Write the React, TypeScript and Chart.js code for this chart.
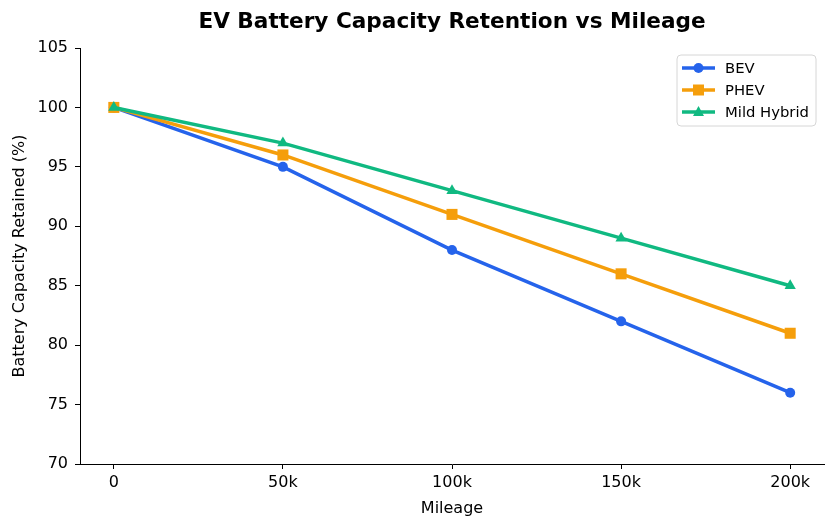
import React, { useEffect, useRef } from "react";
import { Chart, registerables } from "chart.js";

Chart.register(...registerables);

const mileage = [0, 50000, 100000, 150000, 200000];
const tickLabels = ["0", "50k", "100k", "150k", "200k"];
const bev = [100, 95, 88, 82, 76];
const phev = [100, 96, 91, 86, 81];
const mild = [100, 97, 93, 89, 85];
const yTicks = [70, 75, 80, 85, 90, 95, 100, 105];
const titleText = "EV Battery Capacity Retention vs Mileage";

const FONT = "DejaVu Sans";

const titlePlugin = {
  id: "mplTitle",
  afterDraw(chart: any) {
    const ctx = chart.ctx;
    const a = chart.chartArea;
    ctx.save();
    ctx.fillStyle = "#000";
    ctx.font = `bold 21.6px '${FONT}'`;
    ctx.textAlign = "center";
    ctx.textBaseline = "alphabetic";
    ctx.fillText(titleText, (a.left + a.right) / 2, 28);
    ctx.restore();
  },
};

const legendPlugin = {
  id: "mplLegend",
  afterDraw(chart: any) {
    const ctx = chart.ctx;
    const x0 = 677, y0 = 55, w = 139, h = 71, r = 4;
    ctx.save();
    ctx.beginPath();
    ctx.moveTo(x0 + r, y0);
    ctx.arcTo(x0 + w, y0, x0 + w, y0 + h, r);
    ctx.arcTo(x0 + w, y0 + h, x0, y0 + h, r);
    ctx.arcTo(x0, y0 + h, x0, y0, r);
    ctx.arcTo(x0, y0, x0 + w, y0, r);
    ctx.closePath();
    ctx.fillStyle = "rgba(255,255,255,0.8)";
    ctx.fill();
    ctx.strokeStyle = "#d6d6d6";
    ctx.lineWidth = 1;
    ctx.stroke();
    chart.data.datasets.forEach((ds: any, i: number) => {
      const y = 68 + i * 22;
      ctx.strokeStyle = ds.borderColor;
      ctx.lineWidth = 3.5;
      ctx.beginPath();
      ctx.moveTo(682, y);
      ctx.lineTo(715, y);
      ctx.stroke();
      ctx.fillStyle = ds.borderColor;
      ctx.beginPath();
      const cx = 698.5;
      if (ds.pointStyle === "circle") {
        ctx.arc(cx, y, 5, 0, Math.PI * 2);
      } else if (ds.pointStyle === "rect") {
        ctx.rect(cx - 5.5, y - 5.5, 11, 11);
      } else {
        ctx.moveTo(cx, y - 6);
        ctx.lineTo(cx + 5.5, y + 4);
        ctx.lineTo(cx - 5.5, y + 4);
        ctx.closePath();
      }
      ctx.fill();
      ctx.fillStyle = "#000";
      ctx.font = `14.8px '${FONT}'`;
      ctx.textBaseline = "middle";
      ctx.textAlign = "left";
      ctx.fillText(ds.label, 725, y + 1);
    });
    ctx.restore();
  },
};

export default function App() {
  const ref = useRef<HTMLCanvasElement | null>(null);
  useEffect(() => {
    if (!ref.current) return;
    Chart.defaults.font.family = FONT;
    Chart.defaults.color = "#000";
    const mk = (arr: number[]) => arr.map((v, i) => ({ x: mileage[i], y: v }));
    const chart = new Chart(ref.current, {
      type: "line",
      data: {
        datasets: [
          {
            label: "BEV",
            data: mk(bev),
            borderColor: "#2563eb",
            backgroundColor: "#2563eb",
            borderWidth: 3.5,
            pointStyle: "circle",
            pointRadius: 5,
            pointBorderWidth: 0,
            order: 3,
          },
          {
            label: "PHEV",
            data: mk(phev),
            borderColor: "#f59e0b",
            backgroundColor: "#f59e0b",
            borderWidth: 3.5,
            pointStyle: "rect",
            pointRadius: 7.8,
            pointBorderWidth: 0,
            order: 2,
          },
          {
            label: "Mild Hybrid",
            data: mk(mild),
            borderColor: "#10b981",
            backgroundColor: "#10b981",
            borderWidth: 3.5,
            pointStyle: "triangle",
            pointRadius: 6.5,
            pointBorderWidth: 0,
            order: 1,
          },
        ],
      },
      plugins: [titlePlugin, legendPlugin],
      options: {
        animation: false,
        responsive: false,
        devicePixelRatio: 1,
        layout: { padding: { left: 0, right: 11, top: 48, bottom: 0 } },
        plugins: {
          legend: { display: false },
          tooltip: { enabled: false },
          title: { display: false },
        },
        scales: {
          x: {
            type: "linear",
            min: -10000,
            max: 210000,
            afterBuildTicks: (s: any) => {
              s.ticks = mileage.map((v) => ({ value: v }));
            },
            afterFit: (s: any) => {
              s.height = 66;
              s.paddingLeft = 0;
              s.paddingRight = 0;
            },
            ticks: {
              callback: (v: any) => tickLabels[mileage.indexOf(Number(v))] ?? "",
              font: { size: 16, family: FONT },
              color: "#000",
              padding: 4,
              maxRotation: 0,
              autoSkip: false,
            },
            grid: { drawOnChartArea: false, drawTicks: true, tickLength: 5, color: "#000" },
            border: { display: true, color: "#000", width: 1 },
            title: {
              display: true,
              text: "Mileage",
              font: { size: 16, family: FONT },
              color: "#000",
              padding: { top: 12, bottom: 12 },
            },
          },
          y: {
            type: "linear",
            min: 70,
            max: 105,
            afterBuildTicks: (s: any) => {
              s.ticks = yTicks.map((v) => ({ value: v }));
            },
            afterFit: (s: any) => {
              s.width = 80;
              s.paddingTop = 0;
              s.paddingBottom = 0;
            },
            ticks: {
              font: { size: 16, family: FONT },
              color: "#000",
              padding: 7,
            },
            grid: { drawOnChartArea: false, drawTicks: true, tickLength: 5, color: "#000" },
            border: { display: true, color: "#000", width: 1 },
            title: {
              display: true,
              text: "Battery Capacity Retained (%)",
              font: { size: 16, family: FONT },
              color: "#000",
              padding: { top: 10, bottom: 0 },
            },
          },
        },
      },
    });
    return () => chart.destroy();
  }, []);
  return (
    <div style={{ position: "fixed", left: 0, top: 0, width: 835, height: 530, background: "#fff" }}>
      <canvas ref={ref} width={835} height={530} style={{ width: 835, height: 530 }} />
    </div>
  );
}
